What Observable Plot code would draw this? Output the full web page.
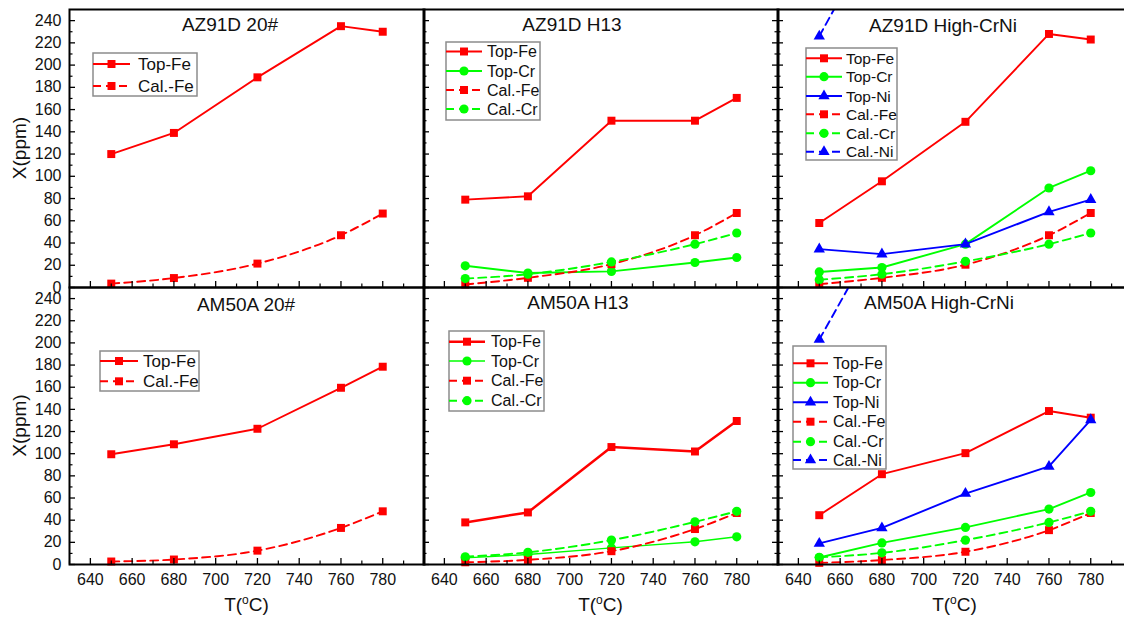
<!DOCTYPE html>
<html>
<head>
<meta charset="utf-8">
<script src="https://cdn.jsdelivr.net/npm/d3@7"></script>
<script src="https://cdn.jsdelivr.net/npm/@observablehq/plot@0.6"></script>
<style>
  body { margin: 0; background: #fff; }
  #fig { position: relative; width: 1124px; height: 620px; overflow: hidden; background: #fff;
         font-family: "Liberation Sans", Arial, sans-serif; }
  #fig > svg.panel { position: absolute; }
  #overlay { position: absolute; left: 0; top: 0; pointer-events: none; }
</style>
</head>
<body>
<div id="fig"></div>
<script>
// ---------- data ----------
const temperature = [650, 680, 720, 760, 780];
const xTicks = [640, 660, 680, 700, 720, 740, 760, 780];
const xMinor = [630, 650, 670, 690, 710, 730, 750, 770, 790];
const yTicks = [0, 20, 40, 60, 80, 100, 120, 140, 160, 180, 200, 220, 240];
const yMinor = [10, 30, 50, 70, 90, 110, 130, 150, 170, 190, 210, 230];
const panelTitles = ["AZ91D 20#", "AZ91D H13", "AZ91D High-CrNi", "AM50A 20#", "AM50A H13", "AM50A High-CrNi"];

// AZ91D 20#
const az20_topFe = [120, 139, 189, 235, 230];
const az20_calFe = [3.5, 8.5, 21.5, 47, 66.5];
// AZ91D H13
const azH13_topFe = [79, 82, 150, 150, 170.5];
const azH13_topCr = [19.5, 13, 14.5, 22.5, 27];
const azH13_calFe = [2.7, 8.7, 21, 47, 67];
const azH13_calCr = [8, 12, 23, 39, 49];
// AZ91D High-CrNi
const azCrNi_topFe = [58, 95.5, 149, 228, 223];
const azCrNi_topCr = [14, 18, 39, 89.5, 105];
const azCrNi_topNi = [34.5, 30, 39, 68, 79];
const azCrNi_calFe = [3, 8.7, 20.5, 47, 67];
const azCrNi_calCr = [7, 12, 23.5, 39, 49];
const azCrNi_calNi = [226, 330, 480, 640, 740];
// AM50A 20#
const am20_topFe = [99.5, 108.5, 122.5, 159.5, 178.5];
const am20_calFe = [2.7, 4.5, 12.5, 33, 48];
// AM50A H13
const amH13_topFe = [38, 47, 106, 102, 129.5];
const amH13_topCr = [6, 9, 15, 20.5, 25];
const amH13_calFe = [2, 4.2, 12, 32, 46.5];
const amH13_calCr = [7, 11, 22, 38.5, 48];
// AM50A High-CrNi
const amCrNi_topFe = [44.5, 81.5, 100.5, 138.5, 132.5];
const amCrNi_topCr = [6.3, 19.5, 33.5, 50, 65];
const amCrNi_topNi = [19, 33, 64, 88.5, 130.5];
const amCrNi_calFe = [1.5, 4, 11.5, 31, 46.5];
const amCrNi_calCr = [6.5, 10.5, 22, 38, 48];
const amCrNi_calNi = [203, 305, 450, 600, 700];

const panelSeries = [
  [["Top-Fe", az20_topFe], ["Cal.-Fe", az20_calFe]],
  [["Top-Fe", azH13_topFe], ["Top-Cr", azH13_topCr], ["Cal.-Fe", azH13_calFe], ["Cal.-Cr", azH13_calCr]],
  [["Top-Fe", azCrNi_topFe], ["Top-Cr", azCrNi_topCr], ["Top-Ni", azCrNi_topNi],
   ["Cal.-Fe", azCrNi_calFe], ["Cal.-Cr", azCrNi_calCr], ["Cal.-Ni", azCrNi_calNi]],
  [["Top-Fe", am20_topFe], ["Cal.-Fe", am20_calFe]],
  [["Top-Fe", amH13_topFe], ["Top-Cr", amH13_topCr], ["Cal.-Fe", amH13_calFe], ["Cal.-Cr", amH13_calCr]],
  [["Top-Fe", amCrNi_topFe], ["Top-Cr", amCrNi_topCr], ["Top-Ni", amCrNi_topNi],
   ["Cal.-Fe", amCrNi_calFe], ["Cal.-Cr", amCrNi_calCr], ["Cal.-Ni", amCrNi_calNi]]
];

// ---------- styles / layout ----------
const elementStyle = {
  Fe: {color: "#ff0000", symbol: "square", r: 4.5},
  Cr: {color: "#00ff00", symbol: "circle", r: 4.6},
  Ni: {color: "#0000ff", symbol: "triangle", r: 4.2}
};
const colLeft = [69, 423, 777];
const colW = 355;
const rowTop = [9, 287];
const rowH = [278, 277];
const titlePos = [[230, 31], [572, 31], [943, 32], [246, 311], [578, 309], [939, 309]];
const legendLayout = [
  {box: [93, 53, 104, 43], items: [64, 86], line: [93, 130], text: 138, font: 17},
  {box: [446, 42, 94, 78], items: [51.5, 71, 90, 109], line: [446, 482], text: 487, font: 16},
  {box: [806, 48, 91, 112], items: [58.3, 76.7, 96, 114.3, 133.3, 151.7], line: [806, 842], text: 846, font: 15.5},
  {box: [100, 351, 99, 40], items: [361, 381.3], line: [100, 138], text: 143, font: 17},
  {box: [449, 331, 95, 80], items: [341.7, 361, 380.7, 400.7], line: [449, 485], text: 491, font: 16},
  {box: [793, 346, 93, 123], items: [363.3, 382.7, 402.3, 421.7, 441.7, 460], line: [793, 828], text: 833, font: 16}
];

function seriesStyle(name, panelIndex) {
  const el = name.slice(-2);
  const cal = name.startsWith("Cal");
  const s = elementStyle[el];
  let w = 1.9;
  if (panelIndex === 4 && name === "Top-Fe") w = 2.5;
  if (panelIndex === 4 && name === "Top-Cr") w = 1.4;
  return {...s, dash: cal ? "8,5" : null, width: w, cal};
}

const fig = document.getElementById("fig");

panelSeries.forEach((series, p) => {
  const col = p % 3, row = Math.floor(p / 3);
  const W = colW, H = rowH[row];
  const mL = col === 0 ? 69 : 12, mR = 12, mT = 12, mB = row === 1 ? 56 : 12;
  const marks = [];
  series.forEach(([name, values]) => {
    const st = seriesStyle(name, p);
    const data = temperature.map((t, i) => ({x: t, y: values[i]}));
    const clip = values.some(v => v > 250);
    marks.push(Plot.line(data, {
      x: "x", y: "y", stroke: st.color, strokeWidth: st.width,
      strokeDasharray: st.dash || undefined,
      curve: st.cal ? "monotone-x" : "linear", clip: true
    }));
    marks.push(Plot.dot(data, {
      x: "x", y: "y", symbol: st.symbol, r: st.r, fill: st.color, stroke: "none", clip
    }));
  });
  // tick marks (inward)
  marks.push(Plot.ruleY(yTicks, {y: d => d, insetRight: W - 6, stroke: "black", strokeWidth: 1.3}));
  marks.push(Plot.ruleY(yMinor, {y: d => d, insetRight: W - 3.5, stroke: "black", strokeWidth: 1.2}));
  marks.push(Plot.ruleX(xTicks, {x: d => d, insetTop: H - 6, stroke: "black", strokeWidth: 1.3}));
  marks.push(Plot.ruleX(xMinor, {x: d => d, insetTop: H - 3.5, stroke: "black", strokeWidth: 1.2}));
  if (col === 1) {
    marks.push(Plot.ruleY(yTicks, {y: d => d, insetLeft: W - 6, stroke: "black", strokeWidth: 1.3}));
    marks.push(Plot.ruleY(yMinor, {y: d => d, insetLeft: W - 3.5, stroke: "black", strokeWidth: 1.2}));
  }
  marks.push(Plot.frame({stroke: "black", strokeWidth: 2}));

  const chart = Plot.plot({
    width: mL + W + mR,
    height: mT + H + mB,
    marginLeft: mL, marginRight: mR, marginTop: mT, marginBottom: mB,
    x: {domain: [630, 800], ticks: xTicks, tickSize: 0, tickPadding: 9, label: null,
        axis: row === 1 ? "bottom" : null},
    y: {domain: [0, 250], ticks: yTicks, tickSize: 0, tickPadding: 8, label: null,
        axis: col === 0 ? "left" : null},
    style: {background: "transparent", overflow: "visible", fontSize: "16px",
            fontFamily: "'Liberation Sans', Arial, sans-serif", color: "#111", maxWidth: "none"},
    marks
  });
  chart.querySelectorAll("text").forEach(t => {
    t.style.setProperty("font-size", "16px", "important");
    t.style.setProperty("font-family", "'Liberation Sans', Arial, sans-serif", "important");
  });
  chart.classList.add("panel");
  chart.style.left = (colLeft[col] - mL) + "px";
  chart.style.top = (rowTop[row] - mT) + "px";
  fig.appendChild(chart);
});

// ---------- overlay: titles, axis labels, legends ----------
const svg = d3.select(fig).append("svg").attr("id", "overlay")
  .attr("width", 1124).attr("height", 620)
  .style("font-family", "'Liberation Sans', Arial, sans-serif");

panelTitles.forEach((t, p) => {
  svg.append("text").attr("x", titlePos[p][0]).attr("y", titlePos[p][1])
    .attr("text-anchor", "middle").attr("font-size", 19).attr("fill", "#111").text(t);
});

// y axis labels
[0, 1].forEach(row => {
  const cy = rowTop[row] + rowH[row] / 2;
  svg.append("text").attr("transform", `translate(25.5,${cy}) rotate(-90)`)
    .attr("text-anchor", "middle").attr("font-size", 19).attr("fill", "#111").text("X(ppm)");
});
// x axis labels
[0, 1, 2].forEach(col => {
  const cx = colLeft[col] + colW / 2;
  const t = svg.append("text").attr("x", cx).attr("y", 611)
    .attr("text-anchor", "middle").attr("font-size", 19).attr("fill", "#111");
  t.append("tspan").text("T(");
  t.append("tspan").attr("dy", -7).attr("font-size", 12).text("o");
  t.append("tspan").attr("dy", 7).text("C)");
});

// legends
panelSeries.forEach((series, p) => {
  const L = legendLayout[p];
  const g = svg.append("g");
  g.append("rect").attr("x", L.box[0]).attr("y", L.box[1]).attr("width", L.box[2]).attr("height", L.box[3])
    .attr("fill", "white").attr("stroke", "#8c8c8c").attr("stroke-width", 1.5);
  series.forEach(([name], i) => {
    const st = seriesStyle(name, p);
    const y = L.items[i];
    g.append("line").attr("x1", L.line[0]).attr("x2", L.line[1]).attr("y1", y).attr("y2", y)
      .attr("stroke", st.color).attr("stroke-width", st.width)
      .attr("stroke-dasharray", st.dash || null);
    const sym = {square: d3.symbolSquare, circle: d3.symbolCircle, triangle: d3.symbolTriangle}[st.symbol];
    g.append("path").attr("d", d3.symbol(sym, Math.PI * st.r * st.r)())
      .attr("transform", `translate(${(L.line[0] + L.line[1]) / 2},${y})`).attr("fill", st.color);
    g.append("text").attr("x", L.text).attr("y", y + 0.36 * L.font).attr("font-size", L.font)
      .attr("fill", "#111").text(name);
  });
});
</script>
</body>
</html>
